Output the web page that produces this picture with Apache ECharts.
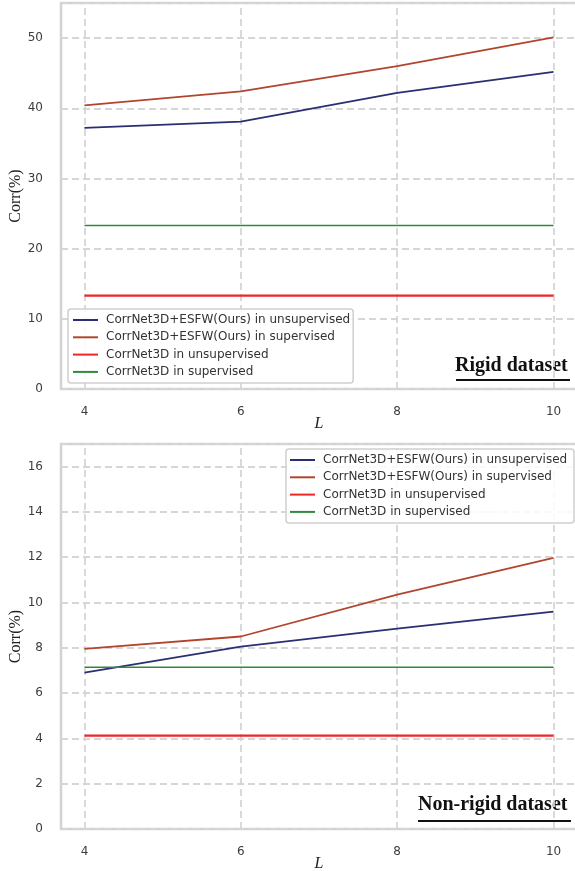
<!DOCTYPE html>
<html>
<head>
<meta charset="utf-8">
<script src="https://cdn.jsdelivr.net/npm/echarts@6/dist/echarts.min.js"></script>
<style>
html,body{margin:0;padding:0;background:#fff;}
#c{width:575px;height:871px;}
</style>
</head>
<body>
<div id="c"></div>
<script>
const L_values = [4, 6, 8, 10];
const seriesNames = [
  'CorrNet3D+ESFW(Ours) in unsupervised',
  'CorrNet3D+ESFW(Ours) in supervised',
  'CorrNet3D in unsupervised',
  'CorrNet3D in supervised'
];
// Rigid dataset
const rigidOursUnsup = [37.2, 38.1, 42.2, 45.2];
const rigidOursSup = [40.4, 42.4, 46.0, 50.1];
const rigidBaseUnsup = [13.3, 13.3, 13.3, 13.3];
const rigidBaseSup = [23.3, 23.3, 23.3, 23.3];
// Non-rigid dataset
const nonrigidOursUnsup = [6.9, 8.05, 8.85, 9.6];
const nonrigidOursSup = [7.95, 8.5, 10.35, 11.97];
const nonrigidBaseUnsup = [4.12, 4.12, 4.12, 4.12];
const nonrigidBaseSup = [7.14, 7.14, 7.14, 7.14];

const colors = ['#2a2f72', '#b2452d', '#ee2626', '#2e8b3a'];
const widths = [1.8, 1.8, 2.3, 1.5];

const chart = echarts.init(document.getElementById('c'), null, {renderer: 'canvas'});

function pairs(ys) { return L_values.map((x, i) => [x, ys[i]]); }

const gridLineStyle = {color: '#d6d6d6', width: 1.8, type: [7, 4]};
const tickLabel = {color: '#3d3d3d', fontSize: 12, fontFamily: 'DejaVu Sans'};

function xAx(gi) {
  return {
    type: 'value', gridIndex: gi, min: 3.7, max: 10.3,
    axisLine: {show: false},
    axisTick: {show: false, customValues: L_values},
    splitLine: {show: false},
    axisLabel: Object.assign({margin: 17, customValues: L_values}, tickLabel),
    name: 'L', nameLocation: 'middle', nameGap: 27, nameMoveOverlap: false,
    nameTextStyle: {fontFamily: 'Liberation Serif', fontStyle: 'italic', fontSize: 16, color: '#222'}
  };
}
function yAx(gi, max, interval) {
  return {
    type: 'value', gridIndex: gi, min: 0, max: max, interval: interval,
    axisLine: {show: false}, axisTick: {show: false},
    splitLine: {show: true, lineStyle: gridLineStyle},
    axisLabel: Object.assign({margin: 18, showMaxLabel: false,
      formatter: v => (v % interval === 0 ? String(v) : '')}, tickLabel),
    name: 'Corr(%)', nameLocation: 'middle', nameGap: 37, nameRotate: 90, nameMoveOverlap: false,
    nameTextStyle: {fontFamily: 'Liberation Serif', fontSize: 16, color: '#222'}
  };
}

const topData = [rigidOursUnsup, rigidOursSup, rigidBaseUnsup, rigidBaseSup];
const botData = [nonrigidOursUnsup, nonrigidOursSup, nonrigidBaseUnsup, nonrigidBaseSup];

const vGrid = {
  silent: true, symbol: 'none', z: 1, animation: false,
  label: {show: false},
  lineStyle: gridLineStyle,
  emphasis: {disabled: true},
  data: L_values.map(v => ({xAxis: v}))
};

const series = [];
topData.forEach((d, i) => series.push({
  name: seriesNames[i], type: 'line', xAxisIndex: 0, yAxisIndex: 0,
  data: pairs(d), showSymbol: false, symbol: 'none', animation: false, z: 3,
  lineStyle: {color: colors[i], width: widths[i]}, itemStyle: {color: colors[i]},
  markLine: i === 0 ? vGrid : undefined
}));
botData.forEach((d, i) => series.push({
  name: seriesNames[i] + ' ', type: 'line', xAxisIndex: 1, yAxisIndex: 1,
  data: pairs(d), showSymbol: false, symbol: 'none', animation: false, z: 3,
  lineStyle: {color: colors[i], width: widths[i]}, itemStyle: {color: colors[i]},
  markLine: i === 0 ? vGrid : undefined
}));

const legendBase = {
  orient: 'vertical', icon: 'rect',
  itemWidth: 25, itemHeight: 2, itemGap: 5.3,
  textStyle: {fontSize: 12, fontFamily: 'DejaVu Sans', color: '#333', padding: [0, 0, 0, 3]},
  borderColor: '#cfcfcf', borderWidth: 1.5, borderRadius: 3,
  backgroundColor: 'rgba(255,255,255,0.85)', selectedMode: false, z: 10
};

const option = {
  animation: false,
  backgroundColor: '#fff',
  grid: [
    {left: 61, top: 3, width: 516, height: 386, show: true, borderColor: '#d2d2d2', borderWidth: 2.5, backgroundColor: 'transparent', outerBoundsMode: 'none', containLabel: false},
    {left: 61, top: 444, width: 516, height: 385, show: true, borderColor: '#d2d2d2', borderWidth: 2.5, backgroundColor: 'transparent', outerBoundsMode: 'none', containLabel: false}
  ],
  xAxis: [xAx(0), xAx(1)],
  yAxis: [yAx(0, 55, 10), yAx(1, 17, 2)],
  legend: [
    Object.assign({}, legendBase, {left: 68, top: 309, padding: [5, 3, 5, 5],
      data: seriesNames.map((n, i) => ({name: n, itemStyle: {color: colors[i]}}))}),
    Object.assign({}, legendBase, {left: 286, top: 449, padding: [5, 3, 5, 4],
      data: seriesNames.map((n, i) => ({name: n + ' ', itemStyle: {color: colors[i]}}))})
  ],
  graphic: [
    {type: 'text', left: 455, top: 356, style: {text: 'Rigid dataset', font: 'bold 20px "Liberation Serif"', fill: '#111'}},
    {type: 'line', shape: {x1: 456, y1: 380, x2: 570, y2: 380}, style: {stroke: '#111', lineWidth: 2}},
    {type: 'text', left: 418, top: 795, style: {text: 'Non-rigid dataset', font: 'bold 20px "Liberation Serif"', fill: '#111'}},
    {type: 'line', shape: {x1: 418, y1: 821, x2: 571, y2: 821}, style: {stroke: '#111', lineWidth: 2}}
  ],
  series: series
};
chart.setOption(option);
</script>
</body>
</html>
